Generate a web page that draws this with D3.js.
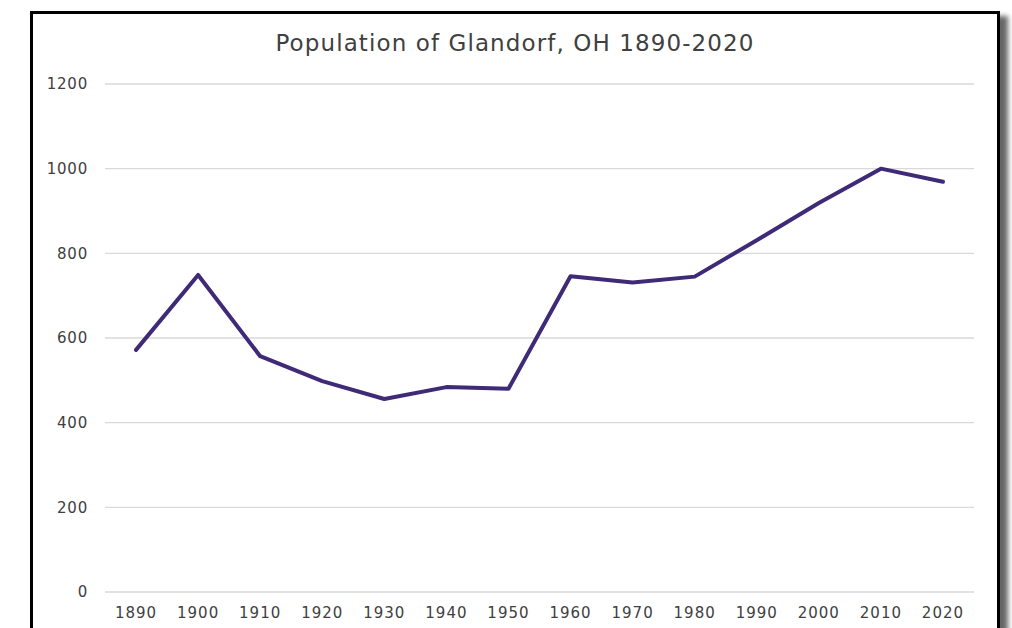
<!DOCTYPE html>
<html>
<head>
<meta charset="utf-8">
<script src="https://cdn.jsdelivr.net/npm/d3@7"></script>
<style>
  body { margin: 0; background: #fff; }
  #chart { position: absolute; left: 30px; top: 11px; width: 964px; height: 640px;
           border: 3px solid #000; box-shadow: 8px 5px 5px rgba(0,0,0,0.6); background: #fff; }
  svg { position: absolute; left: 0; top: 0; }
</style>
</head>
<body>
<div id="chart"></div>
<script>
var years = ["1890","1900","1910","1920","1930","1940","1950","1960","1970","1980","1990","2000","2010","2020"];
var population = [572, 749, 557, 498, 456, 484, 480, 746, 731, 745, 831, 919, 1000, 969];
var yTicks = [0, 200, 400, 600, 800, 1000, 1200];

var svgWidth = 1012;
var svgHeight = 628;

var margin = { top: 84, right: 38, bottom: 36, left: 105 };

var svg = d3.select("body")
    .append("svg")
    .attr("width", svgWidth)
    .attr("height", svgHeight);

var x = d3.scaleBand()
    .domain(years)
    .range([margin.left, 974]);

var y = d3.scaleLinear()
    .domain([0, 1200])
    .range([592, 84]);

// gridlines
svg.append("g")
    .selectAll("line")
    .data(yTicks)
    .join("line")
    .attr("x1", margin.left)
    .attr("x2", 974)
    .attr("y1", d => y(d))
    .attr("y2", d => y(d))
    .attr("stroke", "#d9d9d9")
    .attr("stroke-width", 1.3);

var font = "'Century Gothic', 'URW Gothic', 'DejaVu Sans', sans-serif";

// y labels
svg.append("g")
    .selectAll("text")
    .data(yTicks)
    .join("text")
    .attr("x", 88)
    .attr("y", d => y(d))
    .attr("dy", "0.35em")
    .attr("text-anchor", "end")
    .attr("font-family", font)
    .attr("font-size", 15)
    .attr("letter-spacing", 0.8)
    .attr("fill", "#404040")
    .text(d => d);

// x labels
svg.append("g")
    .selectAll("text")
    .data(years)
    .join("text")
    .attr("x", d => x(d) + x.bandwidth() / 2)
    .attr("y", 613)
    .attr("dy", "0.35em")
    .attr("text-anchor", "middle")
    .attr("font-family", font)
    .attr("font-size", 15)
    .attr("letter-spacing", 1)
    .attr("fill", "#404040")
    .text(d => d);

// title
svg.append("text")
    .attr("x", 515)
    .attr("y", 43)
    .attr("dy", "0.35em")
    .attr("text-anchor", "middle")
    .attr("font-family", font)
    .attr("font-size", 23)
    .attr("letter-spacing", 1.1)
    .attr("fill", "#404040")
    .text("Population of Glandorf, OH 1890-2020");

var line = d3.line()
    .x((d, i) => x(years[i]) + x.bandwidth() / 2)
    .y(d => y(d));

svg.append("path")
    .datum(population)
    .attr("d", line)
    .attr("fill", "none")
    .attr("stroke", "#3f2a78")
    .attr("stroke-width", 4)
    .attr("stroke-linejoin", "round")
    .attr("stroke-linecap", "round");
</script>
</body>
</html>
